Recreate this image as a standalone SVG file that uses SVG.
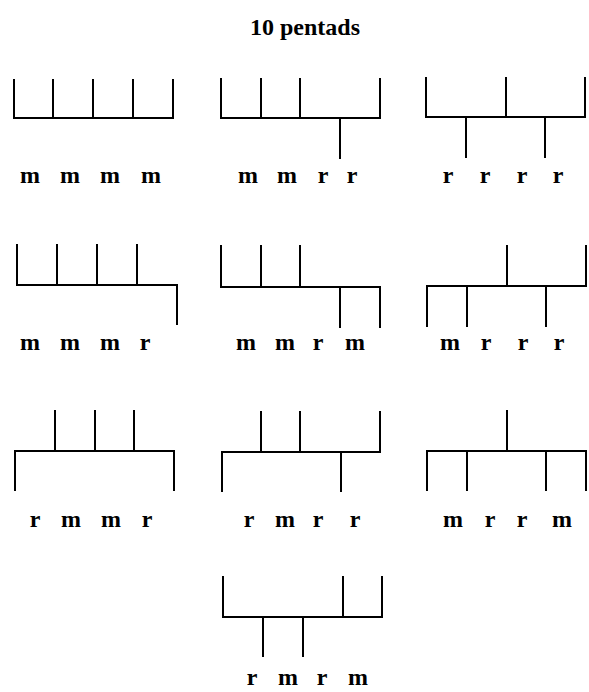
<svg xmlns="http://www.w3.org/2000/svg" width="589" height="692" viewBox="0 0 589 692">
<style>
.ln{fill:none;stroke:#000;stroke-width:2;stroke-linecap:square}
.lb{font-family:"Liberation Serif","Times New Roman",serif;font-weight:bold;font-size:24px;text-anchor:middle;fill:#000}
.tt{font-family:"Liberation Serif","Times New Roman",serif;font-weight:bold;font-size:24px;text-anchor:middle;fill:#000}
</style>
<rect width="589" height="692" fill="#fff"/>
<text class="tt" x="305" y="35">10 pentads</text>
<g id="p1">
<path class="ln" d="M14,118 H173 M14,118 V80 M53,118 V80 M93,118 V80 M133,118 V80 M173,118 V80"/>
<text class="lb" x="30" y="183">m</text><text class="lb" x="70" y="183">m</text><text class="lb" x="110" y="183">m</text><text class="lb" x="151" y="183">m</text>
</g>
<g id="p2">
<path class="ln" d="M221,118 H380 M221,118 V79 M261,118 V79 M300,118 V79 M340,118 V158 M380,118 V79"/>
<text class="lb" x="248" y="183">m</text><text class="lb" x="287" y="183">m</text><text class="lb" x="323" y="183">r</text><text class="lb" x="352" y="183">r</text>
</g>
<g id="p3">
<path class="ln" d="M426,117 H585 M426,117 V78 M466,117 V157 M506,117 V78 M545,117 V157 M585,117 V78"/>
<text class="lb" x="448" y="183">r</text><text class="lb" x="485" y="183">r</text><text class="lb" x="522" y="183">r</text><text class="lb" x="558" y="183">r</text>
</g>
<g id="p4">
<path class="ln" d="M17,285 H177 M17,285 V245 M57,285 V245 M97,285 V245 M137,285 V245 M177,285 V324"/>
<text class="lb" x="30" y="350">m</text><text class="lb" x="70" y="350">m</text><text class="lb" x="110" y="350">m</text><text class="lb" x="145" y="350">r</text>
</g>
<g id="p5">
<path class="ln" d="M221,287 H380 M221,287 V246 M261,287 V246 M300,287 V246 M340,287 V327 M380,287 V327"/>
<text class="lb" x="246" y="350">m</text><text class="lb" x="285" y="350">m</text><text class="lb" x="318" y="350">r</text><text class="lb" x="355" y="350">m</text>
</g>
<g id="p6">
<path class="ln" d="M427,286 H586 M427,286 V326 M467,286 V326 M507,286 V246 M546,286 V326 M586,286 V246"/>
<text class="lb" x="450" y="350">m</text><text class="lb" x="486" y="350">r</text><text class="lb" x="523" y="350">r</text><text class="lb" x="559" y="350">r</text>
</g>
<g id="p7">
<path class="ln" d="M15,451 H174 M15,451 V490 M55,451 V411 M95,451 V411 M134,451 V411 M174,451 V490"/>
<text class="lb" x="35" y="527">r</text><text class="lb" x="71" y="527">m</text><text class="lb" x="111" y="527">m</text><text class="lb" x="147" y="527">r</text>
</g>
<g id="p8">
<path class="ln" d="M222,452 H380 M222,452 V491 M261,452 V412 M300,452 V412 M341,452 V491 M380,452 V412"/>
<text class="lb" x="249" y="527">r</text><text class="lb" x="285" y="527">m</text><text class="lb" x="318" y="527">r</text><text class="lb" x="355" y="527">r</text>
</g>
<g id="p9">
<path class="ln" d="M427,451 H586 M427,451 V490 M467,451 V490 M507,451 V411 M546,451 V490 M586,451 V490"/>
<text class="lb" x="453" y="527">m</text><text class="lb" x="490" y="527">r</text><text class="lb" x="522" y="527">r</text><text class="lb" x="562" y="527">m</text>
</g>
<g id="p10">
<path class="ln" d="M223,617 H382 M223,617 V577 M263,617 V656 M303,617 V656 M343,617 V577 M382,617 V577"/>
<text class="lb" x="252" y="685">r</text><text class="lb" x="288" y="685">m</text><text class="lb" x="322" y="685">r</text><text class="lb" x="358" y="685">m</text>
</g>
</svg>
